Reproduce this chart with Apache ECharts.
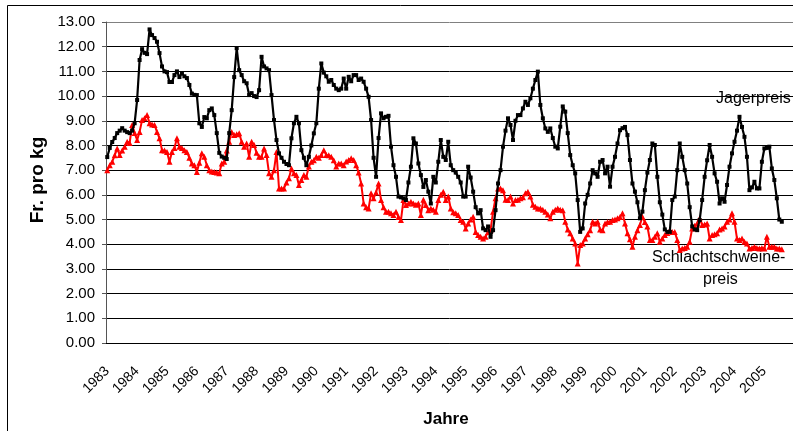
<!DOCTYPE html>
<html>
<head>
<meta charset="utf-8">
<script src="https://cdn.jsdelivr.net/npm/echarts@6/dist/echarts.min.js"></script>
<style>
  html, body { margin: 0; padding: 0; background: #fff; }
  #chart { width: 793px; height: 431px; }
</style>
</head>
<body>
<div id="chart"></div>
<script>
// monthly categories 1983-01 .. 2005-12, year label on every January
var years = [];
for (var y = 1983; y <= 2005; y++) years.push(y);
var months = [];
years.forEach(function (y) {
  for (var m = 1; m <= 12; m++) months.push(y + '-' + (m < 10 ? '0' + m : m));
});

// Fr. pro kg
var jagerpreis = [
  7.53, 7.9, 8.14, 8.3, 8.5, 8.6, 8.7, 8.6, 8.54, 8.5, 8.6, 8.9,
  9.84, 11.46, 11.9, 11.75, 11.7, 12.7, 12.47, 12.35, 12.2, 11.74, 11.2, 11.0,
  10.97, 10.57, 10.57, 10.85, 11.0, 10.77, 10.93, 10.8, 10.73, 10.45, 10.1, 10.05,
  10.04, 8.9, 8.75, 9.15, 9.1, 9.43, 9.5, 9.23, 8.5, 7.7, 7.55, 7.5,
  7.45, 8.5, 9.43, 10.77, 11.94, 11.05, 10.85, 10.6, 10.52, 10.04, 10.12, 10.0,
  9.96, 10.24, 11.59, 11.2, 11.12, 11.05, 10.04, 9.03, 8.22, 7.68, 7.5, 7.34,
  7.25, 7.2, 8.29, 8.9, 9.16, 8.9, 7.81, 7.5, 7.2, 7.54, 8.0, 8.49,
  8.9, 10.3, 11.32, 10.95, 10.8, 10.58, 10.65, 10.45, 10.3, 10.24, 10.3, 10.71,
  10.3, 10.78, 10.6, 10.85, 10.85, 10.65, 10.71, 10.58, 10.3, 9.97, 9.03, 7.5,
  6.73, 8.3, 9.3, 9.1, 9.16, 9.2, 7.95, 7.2, 6.73, 5.93, 5.9, 5.86,
  5.79, 6.5, 7.14, 8.29, 8.08, 7.27, 6.8, 6.32, 6.6, 6.13, 5.65, 6.73,
  6.5, 7.34, 8.22, 7.54, 7.41, 8.15, 7.2, 7.0, 6.9, 6.73, 6.5, 5.93,
  5.93, 7.14, 6.7, 6.13, 5.5, 5.25, 5.38, 4.64, 4.57, 4.72, 4.3, 4.57,
  5.38, 6.46, 7.0, 7.95, 8.6, 9.1, 8.83, 8.22, 9.0, 9.23, 9.23, 9.5,
  9.77, 9.64, 9.91, 10.3, 10.65, 10.99, 9.64, 9.1, 8.69, 8.55, 8.69, 8.3,
  7.95, 7.88, 8.76, 9.58, 9.37, 8.5, 7.61, 7.2, 6.87, 5.79, 4.5, 4.64,
  5.65, 6.0, 6.46, 7.0, 6.87, 6.73, 7.34, 7.41, 6.87, 7.14, 6.33, 7.14,
  7.54, 8.08, 8.62, 8.7, 8.75, 8.42, 7.41, 6.46, 6.13, 5.7, 5.05, 5.32,
  6.19, 6.9, 7.41, 8.08, 8.02, 6.73, 5.7, 5.2, 4.6, 4.5, 4.5, 5.79,
  5.93, 7.0, 8.08, 7.54, 7.0, 6.46, 5.5, 4.72, 4.6, 4.57, 4.98, 5.79,
  6.73, 7.4, 8.02, 7.54, 6.87, 6.53, 5.65, 5.86, 5.72, 6.4, 7.14, 7.68,
  8.15, 8.6, 9.16, 8.75, 8.35, 7.54, 6.19, 6.3, 6.53, 6.26, 6.26, 7.34,
  7.88, 7.9, 7.95, 7.07, 6.6, 5.86, 5.0, 4.91
];

var schlachtschweinepreis = [
  7.0, 7.2, 7.34, 7.6, 7.88, 7.61, 7.8, 7.95, 8.15, 8.1, 8.83, 8.5,
  8.22, 8.55, 9.03, 9.1, 9.23, 8.9, 8.85, 8.83, 8.55, 8.29, 7.81, 7.8,
  7.74, 7.34, 7.74, 7.9, 8.29, 7.95, 7.9, 7.81, 7.74, 7.5, 7.27, 7.2,
  6.93, 7.3, 7.68, 7.54, 7.2, 7.0, 6.95, 6.93, 6.9, 6.87, 7.27, 7.34,
  7.8, 8.15, 8.55, 8.42, 8.45, 8.49, 8.15, 7.95, 8.08, 7.54, 8.15, 8.02,
  7.7, 7.54, 7.54, 7.88, 7.61, 6.87, 6.73, 7.0, 7.74, 6.26, 6.26, 6.26,
  6.5, 6.67, 7.07, 6.87, 6.8, 6.4, 6.6, 6.8, 6.73, 7.15, 7.34, 7.4,
  7.54, 7.5, 7.61, 7.81, 7.61, 7.6, 7.54, 7.4, 7.15, 7.27, 7.27, 7.2,
  7.35, 7.41, 7.48, 7.41, 7.2, 6.9, 6.46, 5.65, 5.5, 5.45, 6.06, 5.86,
  6.1, 6.46, 5.79, 5.5, 5.32, 5.32, 5.25, 5.18, 5.32, 5.1, 4.98, 5.79,
  5.59, 5.65, 5.72, 5.65, 5.6, 5.65, 5.18, 5.8, 5.59, 5.38, 5.45, 5.4,
  5.32, 5.79, 6.0, 6.13, 5.79, 5.93, 5.45, 5.3, 5.25, 5.18, 4.98, 4.91,
  4.64, 4.84, 5.0, 5.11, 4.5, 4.37, 4.3, 4.23, 4.3, 4.5, 4.57, 5.32,
  5.86, 6.26, 6.26, 6.19, 5.8, 5.79, 5.93, 5.65, 5.79, 5.8, 5.86, 5.9,
  6.06, 6.13, 5.93, 5.6, 5.52, 5.45, 5.45, 5.4, 5.32, 5.2, 5.05, 5.32,
  5.4, 5.45, 5.4, 5.38, 4.91, 4.6, 4.44, 4.23, 4.03, 3.22, 3.97, 4.03,
  4.23, 4.4, 4.57, 4.91, 4.84, 4.91, 4.6, 4.57, 4.84, 4.9, 4.91, 4.98,
  5.0, 5.05, 5.1, 5.25, 4.84, 4.44, 4.2, 3.9, 4.3, 4.57, 4.78, 5.11,
  4.9, 4.72, 4.17, 4.17, 4.3, 4.44, 4.1, 4.23, 4.37, 4.45, 4.57, 4.5,
  4.5, 4.17, 3.77, 3.83, 3.85, 3.9, 4.1, 4.64, 4.75, 4.84, 5.05, 4.78,
  4.8, 4.84, 4.23, 4.37, 4.4, 4.44, 4.6, 4.64, 4.72, 4.91, 5.0, 5.25,
  4.91, 4.23, 4.17, 4.23, 4.1, 4.03, 3.83, 3.85, 3.9, 3.85, 3.83, 3.85,
  3.83, 4.3, 3.9, 3.9, 3.9, 3.83, 3.83, 3.8
];

var chart = echarts.init(document.getElementById('chart'), null, { renderer: 'canvas' });
var font = 'Liberation Sans, Arial, sans-serif';

// top gridline is the plot border, lighter than the others
var gridColors = [];
for (var k = 0; k < 13; k++) gridColors.push('#000');
gridColors.push('#808080');

var option = {
  animation: false,
  backgroundColor: '#fff',
  grid: { left: 106, top: 22, right: -11, bottom: 88 },
  xAxis: {
    type: 'category',
    data: months,
    boundaryGap: true,
    axisLine: { lineStyle: { color: '#000', width: 1 } },
    axisTick: { interval: 0, length: 4, lineStyle: { color: '#000' } },
    axisLabel: {
      interval: 11,
      rotate: 45,
      margin: 26,
      fontFamily: font,
      fontSize: 14,
      color: '#000',
      formatter: function (v) { return v.slice(0, 4); }
    },
    splitLine: { show: false }
  },
  yAxis: {
    type: 'value',
    min: 0,
    max: 13,
    interval: 1,
    axisLine: { show: true, lineStyle: { color: '#555', width: 1 } },
    axisTick: { show: true, length: 4, lineStyle: { color: '#555' } },
    axisLabel: {
      margin: 11,
      fontFamily: font,
      fontSize: 15,
      color: '#000',
      formatter: function (v) { return v.toFixed(2); }
    },
    splitLine: { lineStyle: { color: gridColors, width: 1 } }
  },
  series: [
    {
      name: 'Jagerpreis',
      type: 'line',
      data: jagerpreis,
      symbol: 'rect',
      symbolSize: 4,
      showAllSymbol: true,
      lineStyle: { color: '#000', width: 2.2 },
      itemStyle: { color: '#000' },
      z: 3
    },
    {
      name: 'Schlachtschweinepreis',
      type: 'line',
      data: schlachtschweinepreis,
      symbol: 'triangle',
      symbolSize: 6,
      showAllSymbol: true,
      lineStyle: { color: '#ff0000', width: 2 },
      itemStyle: { color: '#ff0000' },
      z: 2
    }
  ],
  graphic: [
    {
      type: 'rect',
      shape: { x: 7.5, y: 5.5, width: 900, height: 500 },
      style: { fill: null, stroke: '#000', lineWidth: 1 },
      silent: true, z: -1
    },
    {
      type: 'text', x: 37.5, y: 180, rotation: Math.PI / 2,
      style: { text: 'Fr. pro kg', font: 'bold 19px ' + font, fill: '#000', align: 'center', verticalAlign: 'middle' }
    },
    {
      type: 'text', x: 446, y: 419,
      style: { text: 'Jahre', font: 'bold 17px ' + font, fill: '#000', align: 'center', verticalAlign: 'middle' }
    },
    {
      type: 'text', x: 716, y: 99,
      style: { text: 'Jagerpreis', font: '16px ' + font, fill: '#000', align: 'left', verticalAlign: 'middle' }
    },
    {
      type: 'text', x: 652, y: 258,
      style: { text: 'Schlachtschweine-', font: '16px ' + font, fill: '#000', align: 'left', verticalAlign: 'middle' }
    },
    {
      type: 'text', x: 703, y: 280,
      style: { text: 'preis', font: '16px ' + font, fill: '#000', align: 'left', verticalAlign: 'middle' }
    }
  ]
};

chart.setOption(option);
</script>
</body>
</html>
